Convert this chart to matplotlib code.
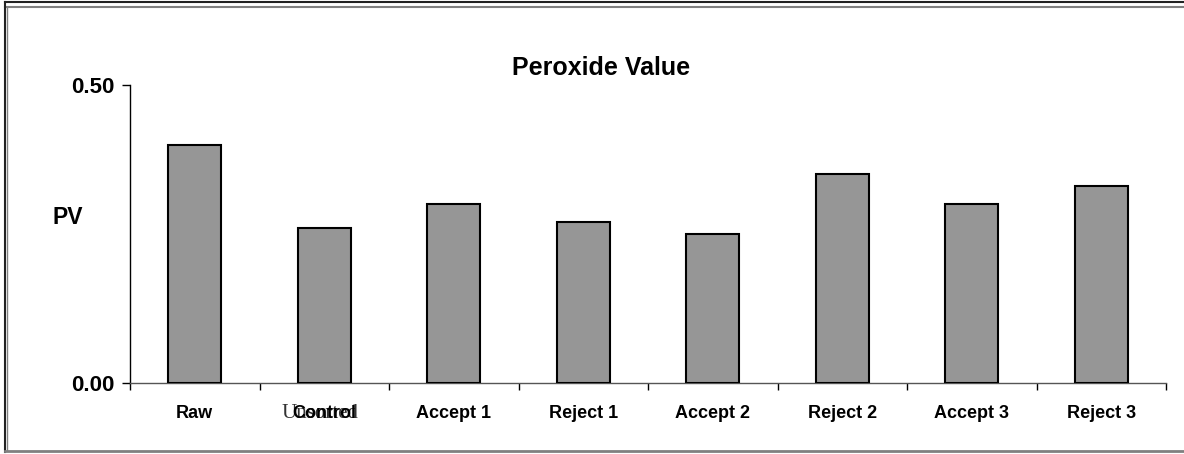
import matplotlib.pyplot as plt
from matplotlib.lines import Line2D

categories = ['Raw', 'Control', 'Accept 1', 'Reject 1', 'Accept 2', 'Reject 2', 'Accept 3', 'Reject 3']
pv = [0.40, 0.26, 0.30, 0.27, 0.25, 0.35, 0.30, 0.33]

plt.rcParams['font.family'] = ['Liberation Sans', 'DejaVu Sans']

W, H = 1184, 454
fig = plt.figure(figsize=(W / 100, H / 100), dpi=100)
ax = fig.add_axes([130 / W, 1 - 383 / H, (1166 - 130) / W, (383 - 85) / H])

x = list(range(len(categories)))
ax.bar(x, pv, width=0.41, color='#969696', edgecolor='black', linewidth=1.5, zorder=3)

ax.set_xlim(-0.5, len(categories) - 0.5)
ax.set_ylim(0, 0.5)
ax.set_yticks([0, 0.5])
ax.set_yticklabels(['0.00', '0.50'], fontsize=16, fontweight='bold')
ax.tick_params(axis='y', length=6, width=1, pad=5)

# category labels between ticks, ticks at the boundaries
ax.set_xticks([i - 0.5 for i in range(len(categories) + 1)])
ax.set_xticklabels([])
ax.tick_params(axis='x', length=5, width=1, direction='out')
for i, c in enumerate(categories):
    ax.text(i, -0.051, c, ha='center', va='center', fontsize=13, fontweight='bold')
# stray overlapped label from the original sheet
ax.text(0.97, -0.051, 'Unsorted', ha='center', va='center', fontsize=15,
        family='Liberation Serif', color='#333333', zorder=1)

ax.spines['top'].set_visible(False)
ax.spines['right'].set_visible(False)
ax.spines['left'].set_linewidth(1)
ax.spines['bottom'].set_linewidth(1)
ax.spines['bottom'].set_color('#555555')

fig.text(601 / W, 1 - 68 / H, 'Peroxide Value', fontsize=18, fontweight='bold', ha='center', va='center')
fig.text(52 / W, 1 - 218 / H, 'PV', fontsize=16.5, fontweight='bold', va='center', ha='left')

# outer chart frame
def fline(x0, y0, x1, y1, color, lw):
    fig.add_artist(Line2D([x0 / W, x1 / W], [1 - y0 / H, 1 - y1 / H], color=color, lw=lw,
                          transform=fig.transFigure))

fline(5, 2, W, 2, '#222222', 1.5)
fline(5, 7, W, 7, '#808080', 1.5)
fline(5, 2, 5, 452, '#222222', 1.5)
fline(7, 7, 7, 450, '#808080', 1.0)
fline(5, 450.5, W, 450.5, '#808080', 2)

fig.savefig('out.png', dpi=100)
